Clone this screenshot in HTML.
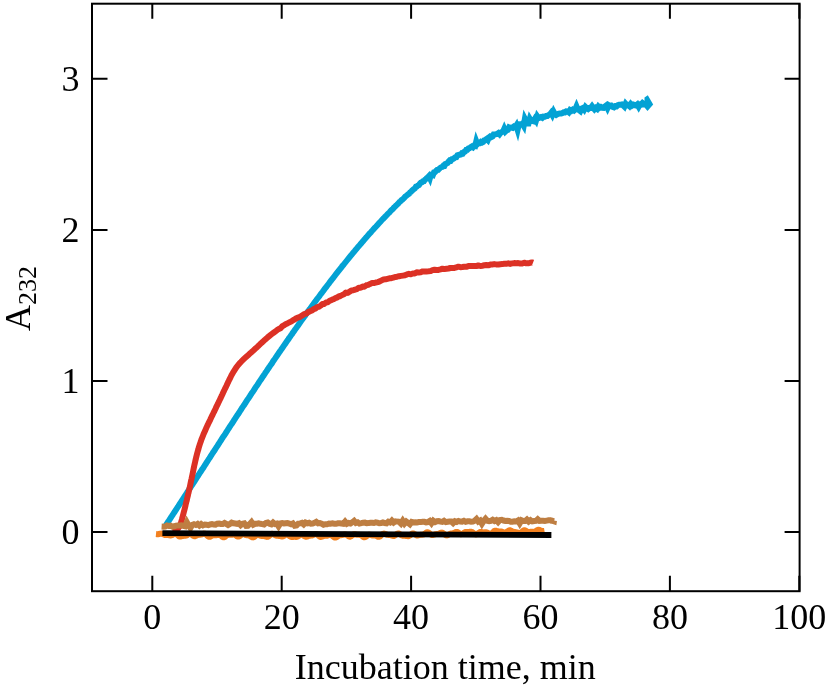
<!DOCTYPE html>
<html><head><meta charset="utf-8"><style>
html,body{margin:0;padding:0;background:#fff;}
svg{display:block;will-change:transform;}
text{font-family:"Liberation Serif",serif;font-size:36px;fill:#000;}
</style></head><body>
<svg width="827" height="687" viewBox="0 0 827 687">
<rect width="827" height="687" fill="#fff"/>
<g fill="none" stroke-linejoin="round">
<path d="M156.0 534.1 L157.0 534.2 L158.0 534.2 L159.0 534.0 L160.0 533.8 L161.0 533.6 L162.0 533.7 L163.0 534.1 L164.0 534.6 L165.0 535.0 L166.0 535.1 L167.0 535.1 L168.0 535.1 L169.0 535.2 L170.0 535.4 L171.0 535.5 L172.0 535.2 L173.0 534.6 L174.0 534.0 L175.0 533.7 L176.0 533.9 L177.0 534.6 L178.0 535.5 L179.0 536.3 L180.0 536.6 L181.0 536.5 L182.0 536.2 L183.0 535.9 L184.0 535.8 L185.0 535.8 L186.0 535.6 L187.0 535.2 L188.0 534.5 L189.0 533.9 L190.0 533.7 L191.0 534.0 L192.0 534.8 L193.0 535.6 L194.0 536.2 L195.0 536.2 L196.0 535.8 L197.0 535.3 L198.0 534.9 L199.0 534.7 L200.0 534.7 L201.0 534.6 L202.0 534.3 L203.0 533.9 L204.0 533.6 L205.0 533.8 L206.0 534.4 L207.0 535.4 L208.0 536.3 L209.0 536.8 L210.0 536.7 L211.0 536.2 L212.0 535.6 L213.0 535.2 L214.0 535.1 L215.0 535.2 L216.0 535.3 L217.0 535.1 L218.0 534.9 L219.0 534.8 L220.0 535.1 L221.0 535.7 L222.0 536.6 L223.0 537.2 L224.0 537.3 L225.0 536.8 L226.0 536.0 L227.0 535.2 L228.0 534.7 L229.0 534.6 L230.0 534.7 L231.0 534.7 L232.0 534.7 L233.0 534.5 L234.0 534.5 L235.0 534.8 L236.0 535.5 L237.0 536.2 L238.0 536.6 L239.0 536.5 L240.0 535.9 L241.0 535.1 L242.0 534.4 L243.0 534.1 L244.0 534.3 L245.0 534.7 L246.0 535.1 L247.0 535.3 L248.0 535.3 L249.0 535.5 L250.0 536.0 L251.0 536.6 L252.0 537.2 L253.0 537.4 L254.0 537.1 L255.0 536.3 L256.0 535.5 L257.0 534.8 L258.0 534.7 L259.0 535.0 L260.0 535.5 L261.0 535.9 L262.0 536.1 L263.0 536.0 L264.0 536.1 L265.0 536.3 L266.0 536.6 L267.0 536.9 L268.0 536.7 L269.0 536.1 L270.0 535.2 L271.0 534.3 L272.0 533.8 L273.0 533.9 L274.0 534.5 L275.0 535.1 L276.0 535.6 L277.0 535.8 L278.0 535.8 L279.0 535.9 L280.0 536.0 L281.0 536.3 L282.0 536.5 L283.0 536.3 L284.0 535.8 L285.0 535.0 L286.0 534.4 L287.0 534.3 L288.0 534.8 L289.0 535.6 L290.0 536.4 L291.0 536.9 L292.0 537.1 L293.0 536.9 L294.0 536.8 L295.0 536.8 L296.0 536.9 L297.0 536.8 L298.0 536.4 L299.0 535.7 L300.0 535.0 L301.0 534.5 L302.0 534.5 L303.0 535.0 L304.0 535.9 L305.0 536.5 L306.0 536.8 L307.0 536.6 L308.0 536.2 L309.0 535.9 L310.0 535.7 L311.0 535.6 L312.0 535.5 L313.0 535.1 L314.0 534.6 L315.0 534.1 L316.0 533.9 L317.0 534.3 L318.0 535.1 L319.0 536.1 L320.0 536.8 L321.0 537.0 L322.0 536.7 L323.0 536.3 L324.0 535.9 L325.0 535.7 L326.0 535.8 L327.0 535.8 L328.0 535.5 L329.0 535.2 L330.0 534.9 L331.0 535.0 L332.0 535.5 L333.0 536.4 L334.0 537.2 L335.0 537.6 L336.0 537.5 L337.0 536.9 L338.0 536.1 L339.0 535.5 L340.0 535.2 L341.0 535.2 L342.0 535.1 L343.0 534.9 L344.0 534.6 L345.0 534.4 L346.0 534.6 L347.0 535.1 L348.0 535.9 L349.0 536.6 L350.0 536.7 L351.0 536.3 L352.0 535.6 L353.0 534.8 L354.0 534.3 L355.0 534.3 L356.0 534.5 L357.0 534.7 L358.0 534.8 L359.0 534.8 L360.0 534.9 L361.0 535.2 L362.0 535.9 L363.0 536.7 L364.0 537.2 L365.0 537.2 L366.0 536.6 L367.0 535.8 L368.0 535.0 L369.0 534.7 L370.0 534.7 L371.0 535.1 L372.0 535.4 L373.0 535.5 L374.0 535.5 L375.0 535.5 L376.0 535.8 L377.0 536.2 L378.0 536.7 L379.0 536.8 L380.0 536.4 L381.0 535.5 L382.0 534.5 L383.0 533.8 L384.0 533.5 L385.0 533.8 L386.0 534.2 L387.0 534.7 L388.0 534.9 L389.0 534.9 L390.0 534.9 L391.0 535.2 L392.0 535.6 L393.0 535.9 L394.0 535.9 L395.0 535.5 L396.0 534.7 L397.0 533.9 L398.0 533.5 L399.0 533.6 L400.0 534.2 L401.0 535.0 L402.0 535.5 L403.0 535.8 L404.0 535.8 L405.0 535.8 L406.0 535.9 L407.0 536.1 L408.0 536.2 L409.0 536.0 L410.0 535.4 L411.0 534.5 L412.0 533.7 L413.0 533.4 L414.0 533.7 L415.0 534.3 L416.0 535.0 L417.0 535.5 L418.0 535.5 L419.0 535.2 L420.0 534.9 L421.0 534.7 L422.0 534.7 L423.0 534.6 L424.0 534.2 L425.0 533.6 L426.0 532.8 L427.0 532.3 L428.0 532.3 L429.0 532.9 L430.0 533.7 L431.0 534.5 L432.0 535.0 L433.0 534.9 L434.0 534.6 L435.0 534.3 L435.9 534.1 L436.9 534.1 L437.9 534.1 L438.9 533.8 L439.9 533.3 L440.9 532.8 L441.9 532.6 L442.9 532.9 L443.9 533.6 L444.9 534.5 L445.9 535.2 L446.9 535.4 L447.9 535.1 L448.9 534.4 L449.9 533.9 L450.9 533.5 L451.9 533.4 L452.9 533.2 L453.9 532.9 L454.9 532.5 L455.9 532.0 L456.9 531.9 L457.9 532.3 L458.9 533.0 L459.9 533.8 L460.9 534.2 L461.9 534.1 L462.9 533.6 L463.9 532.8 L464.9 532.2 L465.9 531.9 L466.9 531.9 L467.9 532.0 L468.9 531.9 L469.9 531.8 L470.9 531.7 L471.9 531.9 L472.9 532.5 L473.9 533.3 L474.9 534.1 L475.9 534.4 L476.9 534.1 L477.9 533.4 L478.9 532.7 L479.9 532.1 L480.9 532.0 L481.9 532.1 L482.9 532.3 L483.9 532.4 L484.9 532.3 L485.9 532.3 L486.9 532.5 L487.9 532.9 L488.9 533.6 L489.9 534.0 L490.9 533.9 L491.9 533.3 L492.9 532.3 L493.9 531.3 L494.9 530.8 L495.9 530.7 L496.9 531.0 L497.9 531.3 L498.9 531.4 L499.9 531.4 L500.9 531.4 L501.9 531.7 L502.9 532.1 L503.9 532.6 L504.9 532.9 L505.9 532.7 L506.9 532.0 L507.9 531.1 L508.9 530.4 L509.9 530.2 L510.9 530.5 L511.9 531.1 L512.9 531.6 L513.9 532.0 L514.9 532.1 L515.9 532.2 L516.9 532.4 L517.9 532.7 L518.9 533.1 L519.9 533.1 L520.9 532.7 L521.9 531.9 L522.9 531.0 L523.9 530.3 L524.9 530.3 L525.9 530.7 L526.9 531.4 L527.9 531.9 L528.9 532.1 L529.9 532.0 L530.9 531.8 L531.9 531.8 L532.9 531.8 L533.9 531.9 L534.9 531.7 L535.9 531.1 L536.9 530.3 L537.9 529.7 L538.9 529.7 L539.9 530.1 L540.9 530.6 L541.9 531.0 L542.9 531.1 L543.9 531.1 L544.5 531.0" stroke="#f2801f" stroke-width="6"/>
<path d="M165.4 525.9 L166.1 524.9 L166.8 523.8 L167.5 522.7 L168.3 521.6 L169.0 520.5 L169.7 519.4 L170.4 518.3 L171.1 517.2 L171.8 516.2 L172.5 515.1 L173.2 514.0 L173.9 512.9 L174.7 511.8 L175.4 510.7 L176.1 509.6 L176.8 508.5 L177.5 507.4 L178.2 506.4 L178.9 505.3 L179.6 504.2 L180.3 503.1 L181.0 502.0 L181.7 500.9 L182.5 499.8 L183.2 498.7 L183.9 497.6 L184.6 496.5 L185.3 495.5 L186.0 494.4 L186.7 493.3 L187.4 492.2 L188.1 491.1 L188.8 490.0 L189.5 488.9 L190.2 487.8 L190.9 486.7 L191.7 485.6 L192.4 484.6 L193.1 483.5 L193.8 482.4 L194.5 481.3 L195.2 480.2 L195.9 479.1 L196.6 478.0 L197.3 476.9 L198.0 475.8 L198.7 474.7 L199.4 473.6 L200.1 472.5 L200.8 471.5 L201.5 470.4 L202.2 469.3 L203.0 468.2 L203.7 467.1 L204.4 466.0 L205.1 464.9 L205.8 463.8 L206.5 462.7 L207.2 461.6 L207.9 460.5 L208.6 459.4 L209.3 458.4 L210.0 457.3 L210.7 456.2 L211.4 455.1 L212.1 454.0 L212.8 452.9 L213.5 451.8 L214.3 450.7 L215.0 449.6 L215.7 448.5 L216.4 447.4 L217.1 446.4 L217.8 445.3 L218.5 444.2 L219.2 443.1 L219.9 442.0 L220.6 440.9 L221.3 439.8 L222.0 438.7 L222.7 437.6 L223.4 436.5 L224.2 435.4 L224.9 434.4 L225.6 433.3 L226.3 432.2 L227.0 431.1 L227.7 430.0 L228.4 428.9 L229.1 427.8 L229.8 426.7 L230.5 425.6 L231.2 424.6 L232.0 423.5 L232.7 422.4 L233.4 421.3 L234.1 420.2 L234.8 419.1 L235.5 418.0 L236.2 416.9 L236.9 415.8 L237.6 414.8 L238.4 413.7 L239.1 412.6 L239.8 411.5 L240.5 410.4 L241.2 409.3 L241.9 408.2 L242.6 407.1 L243.3 406.1 L244.1 405.0 L244.8 403.9 L245.5 402.8 L246.2 401.7 L246.9 400.6 L247.6 399.5 L248.4 398.5 L249.1 397.4 L249.8 396.3 L250.5 395.2 L251.2 394.1 L251.9 393.0 L252.7 391.9 L253.4 390.9 L254.1 389.8 L254.8 388.7 L255.5 387.6 L256.2 386.5 L257.0 385.5 L257.7 384.4 L258.4 383.3 L259.1 382.2 L259.8 381.1 L260.6 380.0 L261.3 379.0 L262.0 377.9 L262.7 376.8 L263.5 375.7 L264.2 374.6 L264.9 373.6 L265.6 372.5 L266.4 371.4 L267.1 370.3 L267.8 369.2 L268.5 368.2 L269.3 367.1 L270.0 366.0 L270.7 364.9 L271.5 363.9 L272.2 362.8 L272.9 361.7 L273.6 360.6 L274.4 359.6 L275.1 358.5 L275.8 357.4 L276.6 356.3 L277.3 355.3 L278.0 354.2 L278.8 353.1 L279.5 352.0 L280.2 351.0 L281.0 349.9 L281.7 348.8 L282.5 347.8 L283.2 346.7 L283.9 345.6 L284.7 344.5 L285.4 343.5 L286.1 342.4 L286.9 341.3 L287.6 340.3 L288.4 339.2 L289.1 338.1 L289.9 337.1 L290.6 336.0 L291.3 334.9 L292.1 333.9 L292.8 332.8 L293.6 331.7 L294.3 330.7 L295.1 329.6 L295.8 328.6 L296.6 327.5 L297.3 326.4 L298.1 325.4 L298.8 324.3 L299.6 323.3 L300.3 322.2 L301.1 321.1 L301.8 320.1 L302.6 319.0 L303.4 318.0 L304.1 316.9 L304.9 315.9 L305.6 314.8 L306.4 313.7 L307.2 312.7 L307.9 311.6 L308.7 310.6 L309.4 309.5 L310.2 308.5 L311.0 307.4 L311.7 306.4 L312.5 305.3 L313.3 304.3 L314.0 303.2 L314.8 302.2 L315.6 301.1 L316.4 300.1 L317.1 299.0 L317.9 298.0 L318.7 297.0 L319.5 295.9 L320.2 294.9 L321.0 293.8 L321.8 292.8 L322.6 291.8 L323.4 290.7 L324.1 289.7 L324.9 288.6 L325.7 287.6 L326.5 286.6 L327.3 285.5 L328.1 284.5 L328.9 283.5 L329.6 282.4 L330.4 281.4 L331.2 280.4 L332.0 279.3 L332.8 278.3 L333.6 277.3 L334.4 276.3 L335.2 275.2 L336.0 274.2 L336.8 273.2 L337.6 272.2 L338.4 271.1 L339.2 270.1 L340.0 269.1 L340.8 268.1 L341.6 267.1 L342.4 266.0 L343.3 265.0 L344.1 264.0 L344.9 263.0 L345.7 262.0 L346.5 261.0 L347.3 260.0 L348.2 258.9 L349.0 257.9 L349.8 256.9 L350.6 255.9 L351.4 254.9 L352.3 253.9 L353.1 252.9 L353.9 251.9 L354.8 250.9 L355.6 249.9 L356.4 248.9 L357.3 247.9 L358.1 246.9 L358.9 245.9 L359.8 245.0 L360.6 244.0 L361.5 243.0 L362.3 242.0 L363.2 241.0 L364.0 240.0 L364.9 239.0 L365.7 238.1 L366.6 237.1 L367.4 236.1 L368.3 235.1 L369.1 234.1 L370.0 233.2 L370.9 232.2 L371.7 231.2 L372.6 230.3 L373.5 229.3 L374.3 228.3 L375.2 227.4 L376.1 226.5 L377.0 225.5 L377.9 224.5 L378.7 223.6 L379.6 222.5 L380.5 221.7 L381.4 220.6 L382.3 219.6 L383.2 218.8 L384.1 217.8 L385.0 216.9 L385.9 215.8 L386.8 215.1 L387.7 214.1 L388.6 213.1 L389.5 212.4 L390.4 211.2 L391.3 210.3 L392.2 209.5 L393.1 208.6 L394.1 207.5 L395.0 206.7 L395.9 205.7 L396.8 204.9 L397.8 203.9 L398.7 203.1 L399.6 201.8 L400.6 201.1 L401.5 200.2 L402.4 199.6 L403.4 198.7 L404.3 197.7 L405.3 196.5 L406.2 195.9 L407.2 195.0 L408.2 194.3 L409.1 193.7 L410.1 192.3 L411.0 191.9 L412.0 190.7 L413.0 189.8 L414.0 188.9 L414.9 188.3 L415.9 186.7 L416.9 186.5 L417.9 185.6 L418.9 185.1 L419.9 183.7 L420.9 182.6 L421.9 182.3 L422.9 181.4 L423.9 181.2 L424.9 179.8 L425.9 179.0 L426.9 178.1 L427.9 177.3 L428.9 176.2 L429.9 178.2 L430.9 174.7 L432.0 174.3 L433.0 174.8 L434.0 172.3 L435.1 172.1 L436.1 170.9 L437.1 170.0 L438.2 169.9 L439.2 168.8 L440.3 167.8 L441.3 167.2 L442.4 166.9 L443.4 165.7 L444.5 165.8 L445.5 163.9 L446.6 163.5 L447.7 162.9 L448.7 161.5 L449.8 160.3 L450.9 160.6 L451.9 159.2 L453.0 159.0 L454.1 158.2 L455.2 157.4 L456.3 157.2 L457.4 155.3 L458.5 155.0 L459.6 154.8 L460.7 154.6 L461.8 153.3 L462.9 153.5 L464.0 152.0 L465.1 151.6 L466.2 149.9 L467.3 149.8 L468.4 148.5 L469.5 148.3 L470.7 147.3 L471.8 146.6 L472.9 147.3 L474.0 145.8 L475.2 146.0 L476.3 141.3 L477.4 144.1 L478.6 143.0 L479.7 143.1 L480.9 141.9 L482.0 142.5 L483.2 141.9 L484.3 140.2 L485.5 139.8 L486.6 139.0 L487.8 140.1 L489.0 137.4 L490.1 136.5 L491.3 137.1 L492.5 136.5 L493.6 134.5 L494.8 134.5 L496.0 134.1 L497.2 134.0 L498.4 133.1 L499.5 134.2 L500.7 132.6 L501.9 132.0 L503.1 131.5 L504.3 128.7 L505.5 131.4 L506.7 130.3 L507.9 129.9 L509.1 127.4 L510.3 127.9 L511.5 127.6 L512.7 127.9 L513.9 126.7 L515.1 127.3 L516.3 125.5 L517.6 129.7 L518.8 124.3 L520.0 124.5 L521.2 124.5 L522.4 123.6 L523.7 125.8 L524.9 118.8 L526.1 121.1 L527.4 123.3 L528.6 123.4 L529.8 118.9 L531.1 121.1 L532.3 120.8 L533.5 121.2 L534.8 119.0 L536.0 120.7 L537.3 116.4 L538.5 118.1 L539.8 117.6 L541.0 117.1 L542.3 117.8 L543.5 116.7 L544.8 116.8 L546.0 116.1 L547.3 116.1 L548.5 115.0 L549.8 114.5 L551.1 112.8 L552.3 114.9 L553.6 111.8 L554.9 114.2 L556.1 115.0 L557.4 114.2 L558.7 113.7 L559.9 113.6 L561.2 113.6 L562.5 113.1 L563.7 112.3 L565.0 112.4 L566.3 111.3 L567.6 111.4 L568.8 112.3 L570.1 110.1 L571.4 110.8 L572.7 109.7 L574.0 110.5 L575.2 109.4 L576.5 106.4 L577.8 109.4 L579.1 110.1 L580.4 111.1 L581.7 108.5 L582.9 108.0 L584.2 109.6 L585.5 107.0 L586.8 108.2 L588.1 109.0 L589.4 107.9 L590.7 107.8 L592.0 106.2 L593.2 107.8 L594.5 109.3 L595.8 108.0 L597.1 108.9 L598.4 106.6 L599.7 107.8 L601.0 107.0 L602.3 107.7 L603.6 107.8 L604.9 106.5 L606.2 105.5 L607.5 108.1 L608.8 105.3 L610.1 106.1 L611.4 105.6 L612.7 106.8 L614.0 107.3 L615.3 106.2 L616.6 106.3 L617.9 105.2 L619.2 104.7 L620.5 104.7 L621.8 104.5 L623.1 105.3 L624.4 106.6 L625.6 103.8 L626.9 105.3 L628.2 104.9 L629.5 106.1 L630.8 104.1 L632.1 105.5 L633.4 104.6 L634.7 105.1 L636.0 105.5 L637.3 104.5 L638.6 106.7 L639.9 104.3 L641.2 104.5 L642.5 103.0 L643.8 104.0 L645.5 102.6" stroke="#03a2d4" stroke-width="6" stroke-linejoin="miter" stroke-miterlimit="6"/>
<path d="M644.5 97.6 L647.8 95.3 L653.2 104.4 L647.5 111.0 L644.5 107.4 Z" fill="#03a2d4"/>
<path d="M172.4 530.7 L174.4 530.5 L176.3 529.8 L177.9 528.6 L179.1 527.0 L180.1 525.3 L180.8 523.4 L181.3 521.5 L181.9 519.5 L182.4 517.6 L182.9 515.7 L183.4 513.7 L183.9 511.8 L184.4 509.9 L184.9 507.9 L185.4 506.0 L185.8 504.0 L186.3 502.1 L186.8 500.2 L187.2 498.2 L187.7 496.3 L188.1 494.3 L188.6 492.4 L189.0 490.4 L189.5 488.5 L189.9 486.5 L190.3 484.6 L190.7 482.6 L191.1 480.6 L191.6 478.7 L192.0 476.7 L192.4 474.8 L192.8 472.8 L193.2 470.9 L193.6 468.9 L194.0 466.9 L194.4 465.0 L194.9 463.0 L195.3 461.1 L195.8 459.1 L196.2 457.2 L196.7 455.2 L197.2 453.3 L197.7 451.4 L198.3 449.5 L198.8 447.5 L199.4 445.6 L200.0 443.7 L200.7 441.8 L201.3 439.9 L202.0 438.1 L202.8 436.2 L203.5 434.3 L204.3 432.5 L205.1 430.7 L205.9 428.8 L206.7 427.0 L207.6 425.2 L208.4 423.4 L209.3 421.6 L210.2 419.8 L211.0 418.0 L211.9 416.2 L212.8 414.4 L213.6 412.6 L214.5 410.8 L215.4 409.0 L216.2 407.2 L217.1 405.4 L218.0 403.6 L218.8 401.8 L219.7 400.0 L220.6 398.2 L221.4 396.4 L222.3 394.5 L223.1 392.7 L224.0 390.9 L224.8 389.1 L225.7 387.3 L226.6 385.5 L227.4 383.7 L228.3 381.9 L229.1 380.1 L230.0 378.3 L230.9 376.5 L231.8 374.7 L232.8 373.0 L233.8 371.3 L234.9 369.6 L236.0 367.9 L237.2 366.3 L238.4 364.7 L239.7 363.2 L241.1 361.8 L242.5 360.3 L243.9 358.9 L245.4 357.6 L246.9 356.2 L248.4 354.9 L249.9 353.6 L251.4 352.3 L252.9 350.9 L254.4 349.6 L255.8 348.2 L257.3 346.9 L258.8 345.5 L260.2 344.1 L261.7 342.8 L263.1 341.4 L264.6 340.1 L266.1 338.7 L267.6 337.4 L269.2 336.1 L270.7 334.9 L272.3 333.7 L273.9 332.5 L275.5 331.3 L277.1 330.1 L278.8 329.0 L280.5 328.2 L282.1 326.4 L283.8 325.4 L285.5 324.3 L287.3 323.5 L289.0 322.5 L290.7 321.8 L292.4 320.7 L294.2 319.7 L295.9 318.5 L297.7 317.6 L299.5 317.1 L301.2 316.1 L303.0 314.9 L304.7 313.9 L306.5 313.5 L308.3 311.9 L310.0 311.3 L311.8 310.5 L313.6 309.2 L315.3 308.6 L317.1 307.1 L318.9 306.8 L320.6 305.6 L322.4 304.1 L324.2 303.9 L326.0 302.5 L327.8 302.3 L329.6 300.8 L331.4 300.1 L333.2 299.3 L335.0 298.3 L336.8 297.6 L338.6 296.5 L340.4 296.0 L342.2 295.0 L344.0 294.3 L345.9 292.6 L347.7 292.9 L349.5 291.8 L351.4 290.5 L353.2 290.3 L355.1 289.6 L356.9 289.1 L358.8 287.7 L360.7 287.8 L362.6 286.6 L364.4 286.7 L366.3 285.3 L368.2 284.9 L370.1 283.9 L372.0 283.1 L373.9 283.1 L375.8 282.5 L377.8 282.1 L379.7 281.4 L381.6 280.4 L383.5 279.5 L385.5 279.3 L387.4 278.8 L389.3 278.3 L391.3 278.2 L393.2 277.7 L395.2 277.0 L397.1 276.7 L399.1 276.2 L401.0 275.9 L403.0 275.6 L404.9 275.3 L406.9 274.4 L408.9 273.8 L410.8 274.3 L412.8 273.5 L414.8 273.5 L416.7 272.3 L418.7 272.4 L420.7 272.2 L422.7 271.4 L424.6 271.4 L426.6 271.4 L428.6 271.3 L430.6 271.1 L432.5 270.1 L434.5 269.7 L436.5 270.0 L438.5 269.9 L440.5 269.4 L442.5 268.7 L444.4 269.1 L446.4 268.8 L448.4 268.5 L450.4 268.0 L452.4 268.0 L454.4 267.9 L456.4 267.3 L458.4 266.7 L460.4 267.2 L462.3 267.0 L464.3 266.7 L466.3 266.8 L468.3 266.1 L470.3 266.1 L472.3 265.9 L474.3 266.0 L476.3 266.1 L478.3 265.4 L480.3 266.0 L482.3 265.7 L484.3 265.3 L486.3 265.1 L488.3 265.3 L490.3 264.6 L492.2 264.5 L494.2 264.1 L496.2 264.4 L498.2 264.6 L500.2 264.2 L502.2 264.1 L504.2 263.8 L506.2 263.8 L508.2 263.3 L510.2 263.9 L512.2 263.4 L514.2 263.1 L516.2 263.2 L518.2 263.1 L520.2 263.5 L522.2 263.5 L524.2 262.7 L526.2 263.3 L528.2 263.3 L530.2 262.8 L532.2 262.4 L533.0 262.7" stroke="#dc3125" stroke-width="6" stroke-linecap="butt"/>
<path d="M161.6 526.6 L163.4 526.7 L165.2 526.6 L167.0 525.5 L168.8 525.9 L170.6 525.7 L172.4 526.6 L174.2 526.3 L176.0 525.6 L177.8 525.5 L179.6 525.4 L181.4 525.3 L183.2 525.9 L185.0 526.3 L186.8 522.2 L188.6 525.5 L190.4 528.0 L192.2 525.0 L194.0 524.3 L195.8 525.0 L197.6 523.9 L199.4 525.6 L201.2 524.1 L203.0 525.4 L204.8 524.6 L206.6 524.8 L208.4 525.1 L210.2 524.5 L212.0 524.1 L213.7 524.6 L215.5 524.7 L217.3 523.7 L219.1 523.5 L220.9 524.0 L222.7 524.0 L224.5 523.0 L226.3 523.9 L228.1 525.0 L229.9 524.0 L231.7 522.7 L233.5 523.3 L235.3 523.5 L237.1 523.8 L238.9 523.2 L240.7 525.2 L242.5 523.7 L244.3 523.3 L246.1 525.8 L247.9 525.7 L249.7 524.0 L251.5 522.1 L253.3 524.7 L255.1 523.8 L256.9 523.7 L258.7 523.3 L260.5 523.8 L262.3 524.1 L264.1 524.5 L265.9 523.0 L267.7 522.5 L269.5 523.8 L271.3 524.3 L273.1 522.5 L274.9 524.0 L276.7 523.6 L278.5 526.3 L280.3 523.4 L282.1 523.1 L283.9 523.5 L285.7 523.2 L287.5 523.0 L289.3 523.5 L291.1 524.3 L292.9 523.5 L294.7 525.8 L296.5 525.5 L298.3 523.6 L300.1 523.4 L301.9 522.9 L303.7 524.4 L305.5 522.5 L307.3 523.3 L309.1 522.8 L310.9 523.7 L312.7 523.6 L314.5 522.9 L316.3 521.9 L318.1 523.3 L319.9 523.1 L321.7 523.7 L323.5 524.8 L325.3 524.2 L327.1 524.2 L328.9 523.5 L330.7 523.8 L332.5 523.4 L334.3 523.7 L336.1 523.8 L337.9 523.3 L339.7 523.2 L341.5 523.5 L343.3 523.8 L345.1 521.7 L346.9 523.8 L348.7 523.0 L350.5 523.5 L352.3 522.3 L354.1 520.9 L355.9 523.0 L357.7 522.3 L359.5 523.6 L361.3 523.2 L363.1 522.7 L364.9 522.6 L366.7 523.3 L368.5 523.1 L370.3 522.7 L372.1 522.8 L373.9 523.0 L375.7 522.4 L377.5 522.6 L379.3 523.3 L381.1 523.1 L382.9 522.4 L384.7 523.1 L386.5 523.3 L388.3 521.7 L390.1 522.5 L391.9 520.6 L393.7 522.5 L395.5 521.3 L397.3 521.6 L399.1 521.8 L400.9 523.6 L402.7 520.8 L404.5 523.6 L406.3 521.6 L408.1 522.9 L409.9 524.3 L411.7 522.0 L413.5 522.5 L415.3 522.2 L417.1 522.5 L418.9 522.1 L420.7 522.1 L422.5 521.7 L424.3 521.8 L426.1 522.4 L427.9 522.1 L429.7 521.0 L431.5 523.3 L433.3 520.8 L435.1 522.1 L436.9 521.2 L438.7 521.1 L440.5 521.6 L442.3 521.9 L444.1 520.8 L445.9 522.1 L447.7 521.8 L449.5 521.5 L451.3 521.5 L453.1 523.1 L454.9 521.3 L456.7 521.9 L458.5 520.9 L460.3 521.5 L462.1 521.6 L463.9 520.8 L465.7 521.8 L467.5 521.3 L469.3 521.3 L471.1 521.7 L472.9 521.6 L474.7 520.7 L476.5 519.0 L478.3 521.5 L480.1 520.5 L481.9 523.7 L483.7 520.8 L485.5 518.8 L487.3 520.8 L489.1 521.1 L490.9 520.9 L492.7 519.8 L494.5 521.0 L496.3 520.1 L498.1 522.0 L499.9 520.0 L501.7 519.8 L503.5 520.5 L505.3 520.9 L507.1 520.8 L508.9 520.9 L510.7 521.8 L512.5 521.7 L514.3 521.3 L516.1 521.5 L517.9 520.5 L519.7 523.4 L521.5 520.3 L523.3 521.1 L525.1 521.1 L526.9 519.6 L528.7 521.5 L530.5 520.2 L532.3 521.4 L534.1 521.0 L535.9 520.9 L537.7 519.3 L539.5 520.9 L541.3 520.7 L543.1 520.7 L544.9 520.9 L546.7 520.6 L548.5 520.3 L550.3 520.3 L552.1 520.7 L553.9 521.3 L554.0 520.6" stroke="#be7e42" stroke-width="6.0" stroke-linejoin="miter" stroke-miterlimit="6"/>
<path d="M550.5 517.4 L554.6 520.6 L550.5 523.8 Z" fill="#be7e42"/>
<path d="M162.4 533.2 L551.4 535.0" stroke="#000" stroke-width="5.8" stroke-linecap="butt"/>
</g>
<rect x="92" y="3.7" width="707.6" height="587.5" fill="none" stroke="#000" stroke-width="2"/>
<path d="M152.3 591.2V575.7 M152.3 3.7V18.7 M281.7 591.2V575.7 M281.7 3.7V18.7 M411.1 591.2V575.7 M411.1 3.7V18.7 M540.5 591.2V575.7 M540.5 3.7V18.7 M669.9 591.2V575.7 M669.9 3.7V18.7 M799.3 591.2V575.7 M799.3 3.7V18.7 M92.0 532.0H107.5 M799.6 532.0H784.6 M92.0 381.0H107.5 M799.6 381.0H784.6 M92.0 230.0H107.5 M799.6 230.0H784.6 M92.0 78.8H107.5 M799.6 78.8H784.6" stroke="#000" stroke-width="2" fill="none"/>
<g text-anchor="middle"><text x="152.3" y="628.6">0</text><text x="281.7" y="628.6">20</text><text x="411.1" y="628.6">40</text><text x="540.5" y="628.6">60</text><text x="669.9" y="628.6">80</text><text x="799.3" y="628.6">100</text></g>
<g text-anchor="end"><text x="79.5" y="544.2">0</text><text x="79.5" y="393.2">1</text><text x="79.5" y="242.2">2</text><text x="79.5" y="91.0">3</text></g>
<text x="445.2" y="679" text-anchor="middle">Incubation time, min</text>
<text transform="translate(30.1 298.6) rotate(-90)" text-anchor="middle">A<tspan font-size="26" dy="6">232</tspan></text>
</svg>
</body></html>
